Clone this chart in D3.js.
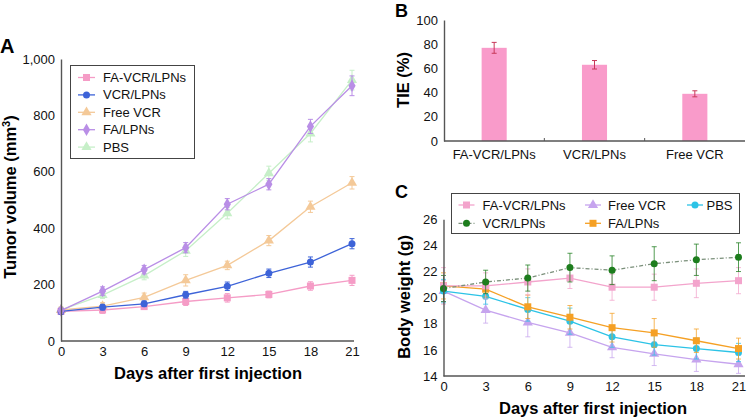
<!DOCTYPE html>
<html><head><meta charset="utf-8">
<script src="https://cdn.jsdelivr.net/npm/d3@7"></script>
<style>
body{margin:0;background:#fff;}
svg{display:block;font-family:"Liberation Sans",Arial,sans-serif;}
</style></head><body>
<svg id="c" width="747" height="417"></svg>
<script>
// ---------- Panel A data ----------
const daysA = [0,3,6,9,12,15,18,21];
const seriesNamesA = ["FA-VCR/LPNs","VCR/LPNs","Free VCR","FA/LPNs","PBS"];
const aFAVCR = [105,110,122,140,153,165,195,215];
const aVCR   = [105,120,132,164,194,240,280,345];
const aFree  = [110,124,155,215,268,356,476,561];
const aFALPN = [108,177,253,331,485,556,761,905];
const aPBS   = [110,163,232,320,453,595,736,925];
const eFAVCR = [8,12,10,14,15,12,15,18];
const eVCR   = [10,10,10,12,15,15,18,18];
const eFree  = [10,12,15,20,15,18,20,22];
const eFALPN = [10,15,15,18,20,20,25,35];
const ePBS   = [10,12,15,20,20,25,30,35];
const yTicksA = [0,200,400,600,800,1000];

// ---------- Panel B data ----------
const catsB = ["FA-VCR/LPNs","VCR/LPNs","Free VCR"];
const valsB = [77,63,39];
const errsB = [4.5,3.5,2.5];
const yTicksB = [0,20,40,60,80,100];

// ---------- Panel C data ----------
const daysC = [0,3,6,9,12,15,18,21];
const seriesNamesC = ["FA-VCR/LPNs","VCR/LPNs","Free VCR","FA/LPNs","PBS"];
const cFAVCR = [20.9,20.9,21.2,21.5,20.8,20.8,21.1,21.3];
const cVCR   = [20.7,21.2,21.5,22.3,22.1,22.6,22.9,23.1];
const cFree  = [20.5,19.05,18.1,17.3,16.2,15.7,15.25,14.9];
const cFALPN = [20.9,20.65,19.3,18.5,17.7,17.3,16.7,16.1];
const cPBS   = [20.5,20.1,19.1,18.2,17.0,16.4,16.1,15.8];
const ecFAVCR = [1.4,1.0,1.0,0.8,1.0,1.0,1.1,1.0];
const ecVCR   = [1.0,0.9,1.0,1.1,1.1,1.3,1.2,1.1];
const ecFree  = [0.8,1.0,1.1,1.1,0.8,0.9,0.9,0.7];
const ecFALPN = [1.0,0.6,0.9,0.9,1.1,1.1,0.9,0.8];
const ecPBS   = [0.9,0.6,0.9,1.0,0.8,0.8,0.8,0.7];
const yTicksC = [14,16,18,20,22,24,26];

const svg = d3.select("#c");
const axisCol = "#555";

function styleAxis(g){
  g.select(".domain").attr("stroke",axisCol).attr("stroke-width",1.4);
  g.selectAll("text").attr("fill","#111").style("font-size","13px").style("font-family","Liberation Sans, Arial, sans-serif");
}

function marker(g, shape, x, y, color, size){
  if(shape==="square"){
    g.append("rect").attr("x",x-size/2).attr("y",y-size/2).attr("width",size).attr("height",size).attr("fill",color);
  } else if(shape==="circle"){
    g.append("circle").attr("cx",x).attr("cy",y).attr("r",size/2).attr("fill",color);
  } else {
    const sym = shape==="triangle"? d3.symbolTriangle : d3.symbolDiamond;
    g.append("path").attr("d",d3.symbol().type(sym).size(size*size*0.7)()).attr("transform",`translate(${x},${y})`).attr("fill",color);
  }
}

// ================= Panel A =================
{
  const x = d3.scaleLinear().domain([0,21]).range([61,352]);
  const y = d3.scaleLinear().domain([0,1000]).range([341,59]);
  const g = svg.append("g");
  const series = [
    {name:seriesNamesA[0], v:aFAVCR, e:eFAVCR, color:"#f59cc6", shape:"square", size:7},
    {name:seriesNamesA[1], v:aVCR,   e:eVCR,   color:"#3d63d8", shape:"circle", size:7},
    {name:seriesNamesA[2], v:aFree,  e:eFree,  color:"#f4c998", shape:"triangle", size:8},
    {name:seriesNamesA[3], v:aFALPN, e:eFALPN, color:"#b98ee6", shape:"diamond", size:8},
    {name:seriesNamesA[4], v:aPBS,   e:ePBS,   color:"#c6efc8", shape:"triangle", size:8}
  ];
  const drawOrder = [4,2,0,1,3];
  const line = d3.line();
  drawOrder.forEach(i=>{
    const s = series[i];
    const sg = g.append("g");
    sg.append("path").attr("d",line(daysA.map((d,k)=>[x(d),y(s.v[k])]))).attr("fill","none").attr("stroke",s.color).attr("stroke-width",1.3);
    daysA.forEach((d,k)=>{
      const cx=x(d), y1=y(s.v[k]+s.e[k]), y2=y(s.v[k]-s.e[k]);
      sg.append("line").attr("x1",cx).attr("x2",cx).attr("y1",y1).attr("y2",y2).attr("stroke",s.color).attr("stroke-width",1);
      sg.append("line").attr("x1",cx-2.5).attr("x2",cx+2.5).attr("y1",y1).attr("y2",y1).attr("stroke",s.color).attr("stroke-width",1);
      sg.append("line").attr("x1",cx-2.5).attr("x2",cx+2.5).attr("y1",y2).attr("y2",y2).attr("stroke",s.color).attr("stroke-width",1);
      marker(sg,s.shape,cx,y(s.v[k]),s.color,s.size);
    });
  });
  const ax = g.append("g").attr("transform","translate(0,341)").call(d3.axisBottom(x).tickValues(daysA).tickSize(0).tickPadding(6));
  ax.select(".domain").attr("d","M61,0H354");
  styleAxis(ax);
  const ay = g.append("g").attr("transform","translate(61,0)").call(d3.axisLeft(y).tickValues(yTicksA).tickSize(0).tickPadding(6).tickFormat(d3.format(",")));
  styleAxis(ay);
  g.append("text").attr("x",208).attr("y",379).attr("text-anchor","middle").style("font-weight","bold").style("font-size","16.5px").text("Days after first injection");
  g.append("text").attr("transform","translate(16,197) rotate(-90)").attr("text-anchor","middle").style("font-weight","bold").style("font-size","16.5px")
    .html('Tumor volume (mm<tspan dy="-6" font-size="11px">3</tspan><tspan dy="6">)</tspan>');
  g.append("text").attr("x",0).attr("y",53).style("font-weight","bold").style("font-size","20px").text("A");
  // legend
  const lg = g.append("g");
  lg.append("rect").attr("x",70.5).attr("y",65.5).attr("width",124).attr("height",93).attr("fill","#fff").attr("stroke","#444").attr("stroke-width",1);
  series.forEach((s,i)=>{
    const ly = 77.5 + i*17.4;
    lg.append("line").attr("x1",78).attr("x2",95).attr("y1",ly).attr("y2",ly).attr("stroke",s.color).attr("stroke-width",1.3);
    marker(lg,s.shape,86.5,ly,s.color,s.size);
    lg.append("text").attr("x",103).attr("y",ly+4.5).style("font-size","13px").attr("fill","#111").text(s.name);
  });
}

// ================= Panel B =================
{
  const x = d3.scaleBand().domain(catsB).range([444,745]).paddingInner(0.75).paddingOuter(0.375);
  const y = d3.scaleLinear().domain([0,100]).range([141,20]);
  const g = svg.append("g");
  g.selectAll("rect.bar").data(catsB).join("rect").attr("class","bar")
    .attr("x",d=>x(d)).attr("width",x.bandwidth()).attr("y",(d,i)=>y(valsB[i])).attr("height",(d,i)=>y(0)-y(valsB[i])).attr("fill","#f99bca");
  catsB.forEach((c,i)=>{
    const cx = x(c)+x.bandwidth()/2, y1=y(valsB[i]+errsB[i]), y2=y(valsB[i]-errsB[i]);
    g.append("line").attr("x1",cx).attr("x2",cx).attr("y1",y1).attr("y2",y2).attr("stroke","#c8385a").attr("stroke-width",1);
    [y1,y2].forEach(yy=>g.append("line").attr("x1",cx-2.5).attr("x2",cx+2.5).attr("y1",yy).attr("y2",yy).attr("stroke","#c8385a").attr("stroke-width",1));
  });
  const ax = g.append("g").attr("transform","translate(0,141)").call(d3.axisBottom(x).tickSize(0).tickPadding(9));
  styleAxis(ax);
  ax.select(".domain").attr("d","M444,0H745");
  // separators between categories
  const step = x.step();
  [1,2].forEach(k=>{
    const sx = x(catsB[k]) - (step - x.bandwidth())/2;
    g.append("line").attr("x1",sx).attr("x2",sx).attr("y1",141).attr("y2",138).attr("stroke",axisCol).attr("stroke-width",1);
  });
  const ay = g.append("g").attr("transform","translate(444,0)").call(d3.axisLeft(y).tickValues(yTicksB).tickSize(0).tickPadding(6));
  styleAxis(ay);
  g.append("text").attr("transform","translate(409,80) rotate(-90)").attr("text-anchor","middle").style("font-weight","bold").style("font-size","16.5px").text("TIE (%)");
  g.append("text").attr("x",395).attr("y",17).style("font-weight","bold").style("font-size","18px").text("B");
}

// ================= Panel C =================
{
  const x = d3.scaleLinear().domain([0,21]).range([443.5,738.5]);
  const y = d3.scaleLinear().domain([14,26]).range([376,219.3]);
  const g = svg.append("g");
  const series = [
    {name:seriesNamesC[0], v:cFAVCR, e:ecFAVCR, color:"#f3a4cc", shape:"square", size:7, dash:null, lineColor:"#f3a4cc"},
    {name:seriesNamesC[1], v:cVCR,   e:ecVCR,   color:"#1d7d1d", shape:"circle", size:7, dash:"4,2,1,2", lineColor:"#7a8f7a"},
    {name:seriesNamesC[2], v:cFree,  e:ecFree,  color:"#c6a4ee", shape:"triangle", size:8, dash:null, lineColor:"#c6a4ee"},
    {name:seriesNamesC[3], v:cFALPN, e:ecFALPN, color:"#f5a024", shape:"square", size:7, dash:null, lineColor:"#f5a024"},
    {name:seriesNamesC[4], v:cPBS,   e:ecPBS,   color:"#2cc3e6", shape:"circle", size:7, dash:null, lineColor:"#2cc3e6"}
  ];
  const drawOrder = [2,4,3,0,1];
  const line = d3.line();
  drawOrder.forEach(i=>{
    const s = series[i];
    const sg = g.append("g");
    daysC.forEach((d,k)=>{
      const cx=x(d), y1=y(s.v[k]+s.e[k]), y2=y(s.v[k]-s.e[k]);
      sg.append("line").attr("x1",cx).attr("x2",cx).attr("y1",y1).attr("y2",y2).attr("stroke",s.color).attr("stroke-width",1).attr("opacity",0.75);
      [y1,y2].forEach(yy=>sg.append("line").attr("x1",cx-2.5).attr("x2",cx+2.5).attr("y1",yy).attr("y2",yy).attr("stroke",s.color).attr("stroke-width",1).attr("opacity",0.75));
    });
    const p = sg.append("path").attr("d",line(daysC.map((d,k)=>[x(d),y(s.v[k])]))).attr("fill","none").attr("stroke",s.lineColor).attr("stroke-width",1.3);
    if(s.dash) p.attr("stroke-dasharray",s.dash);
    daysC.forEach((d,k)=>marker(sg,s.shape,x(d),y(s.v[k]),s.color,s.size));
  });
  const ax = g.append("g").attr("transform","translate(0,376)").call(d3.axisBottom(x).tickValues(daysC).tickSize(0).tickPadding(6));
  styleAxis(ax);
  ax.select(".domain").attr("d","M443.5,0H745");
  const ay = g.append("g").attr("transform","translate(443.5,0)").call(d3.axisLeft(y).tickValues(yTicksC).tickSize(0).tickPadding(6));
  styleAxis(ay);
  g.append("text").attr("x",593).attr("y",414).attr("text-anchor","middle").style("font-weight","bold").style("font-size","16.5px").text("Days after first injection");
  g.append("text").attr("transform","translate(410,297) rotate(-90)").attr("text-anchor","middle").style("font-weight","bold").style("font-size","16.5px").text("Body weight (g)");
  g.append("text").attr("x",395).attr("y",198).style("font-weight","bold").style("font-size","18px").text("C");
  // legend
  const lg = g.append("g");
  lg.append("rect").attr("x",451.5).attr("y",193.5).attr("width",288).attr("height",40).attr("fill","#fff").attr("stroke","#444").attr("stroke-width",1);
  const pos = [[466.5,205],[466.5,223.3],[593,205],[593,223.3],[695,205]];
  const textX = [482.5,482.5,608,608,706.5];
  series.forEach((s,i)=>{
    const [mx,my] = pos[i];
    lg.append("line").attr("x1",mx-8).attr("x2",mx+8).attr("y1",my).attr("y2",my).attr("stroke",s.lineColor).attr("stroke-width",1.3).attr("stroke-dasharray",s.dash);
    marker(lg,s.shape,mx,my,s.color,s.size);
    lg.append("text").attr("x",textX[i]).attr("y",my+4.5).style("font-size","13px").attr("fill","#111").text(s.name);
  });
}
</script>
</body></html>
